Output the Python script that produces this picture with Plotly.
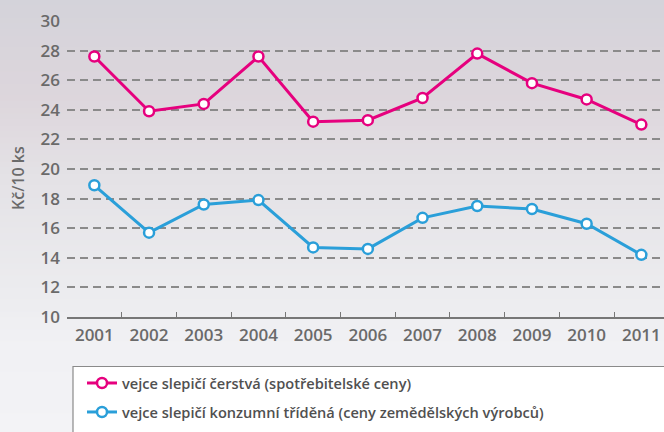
import plotly.graph_objects as go

years = ["2001", "2002", "2003", "2004", "2005", "2006", "2007", "2008", "2009", "2010", "2011"]
spotrebitelske = [27.6, 23.9, 24.4, 27.6, 23.2, 23.3, 24.8, 27.8, 25.8, 24.7, 23.0]
zemedelske = [18.9, 15.7, 17.6, 17.9, 14.7, 14.6, 16.7, 17.5, 17.3, 16.3, 14.2]
name1 = "vejce slepičí čerstvá (spotřebitelské ceny)"
name2 = "vejce slepičí konzumní tříděná (ceny zemědělských výrobců)"
y_ticks = [10, 12, 14, 16, 18, 20, 22, 24, 26, 28, 30]

PINK = "#e6007e"
BLUE = "#2a9fd9"
W, H = 664, 432
L, R, T, B = 67, 0, 21, 115
pw, ph = W - L - R, H - T - B

def px_to_paper_x(px):
    return (px - L) / pw

def px_to_paper_y(py):
    return (H - B - py) / ph

fig = go.Figure()
fig.add_trace(go.Scatter(
    x=years, y=spotrebitelske, name=name1, mode="lines+markers", legendgroup="a",
    line=dict(color=PINK, width=3),
    marker=dict(symbol="circle", size=10, color="white", line=dict(color=PINK, width=2.5)),
))
fig.add_trace(go.Scatter(
    x=years, y=zemedelske, name=name2, mode="lines+markers", legendgroup="b",
    line=dict(color=BLUE, width=3),
    marker=dict(symbol="circle", size=10, color="white", line=dict(color=BLUE, width=2.5)),
))

# background gradient
stops = [(0, (212, 211, 218)), (100, (221, 214, 220)), (180, (228, 226, 230)),
         (280, (235, 235, 238)), (350, (241, 241, 244)), (432, (243, 243, 246))]
shapes = []
step = 6
for y0 in range(0, H, step):
    yc = y0 + step / 2
    for i in range(len(stops) - 1):
        if stops[i][0] <= yc <= stops[i + 1][0]:
            a, ca = stops[i]
            b, cb = stops[i + 1]
            t = (yc - a) / (b - a)
            c = tuple(int(round(ca[k] + (cb[k] - ca[k]) * t)) for k in range(3))
            break
    shapes.append(dict(type="rect", xref="paper", yref="paper", layer="below",
                       x0=px_to_paper_x(-5), x1=px_to_paper_x(W + 5),
                       y0=px_to_paper_y(y0 + step + 0.5), y1=px_to_paper_y(y0 - 0.5),
                       line=dict(width=0), fillcolor="rgb(%d,%d,%d)" % c))
# legend box
shapes.append(dict(type="rect", xref="paper", yref="paper", layer="below",
                   x0=px_to_paper_x(73), x1=px_to_paper_x(W + 10),
                   y0=px_to_paper_y(H + 10), y1=px_to_paper_y(366.5),
                   line=dict(width=1.2, color="#8a8a8a"), fillcolor="white"))

fig.update_layout(
    width=W, height=H,
    margin=dict(l=L, r=R, t=T, b=B, autoexpand=False),
    paper_bgcolor="#f0f0f3", plot_bgcolor="rgba(0,0,0,0)",
    font=dict(family="Open Sans", color="#6a6a6a"),
    shapes=shapes,
    showlegend=True,
    legend=dict(x=px_to_paper_x(82), y=px_to_paper_y(367), xanchor="left", yanchor="top",
                bgcolor="rgba(0,0,0,0)", borderwidth=0, traceorder="grouped",
                font=dict(family="Open Sans", size=14.6, color="#505050", weight=600),
                tracegroupgap=7, itemwidth=30),
    xaxis=dict(type="category", range=[-0.5, -0.5 + pw / 54.7], automargin=False,
               tickson="boundaries", ticks="inside", ticklen=5, tickcolor="#777777",
               showline=True, linecolor="#777777", linewidth=1.5,
               showgrid=False, zeroline=False,
               tickfont=dict(family="Open Sans", size=17, color="#6a6a6a", weight=600),
               ticklabelstandoff=2),
    yaxis=dict(range=[10, 30], tickvals=y_ticks, showline=False, zeroline=False, automargin=False,
               showgrid=True, gridcolor="#8a8a8a", griddash="8px,5px", gridwidth=1.6,
               tickfont=dict(family="Open Sans", size=17, color="#6a6a6a", weight=600),
               ticklabelstandoff=6),
    annotations=[dict(text="Kč/10 ks", xref="paper", yref="paper",
                      x=px_to_paper_x(18), y=px_to_paper_y(178), textangle=-90,
                      showarrow=False, xanchor="center", yanchor="middle",
                      font=dict(family="Open Sans", size=16, color="#6a6a6a", weight=600))],
)

fig.write_html("out.html", config={"displayModeBar": False},
               post_script="document.body.style.margin='0';document.body.style.overflow='hidden';")
